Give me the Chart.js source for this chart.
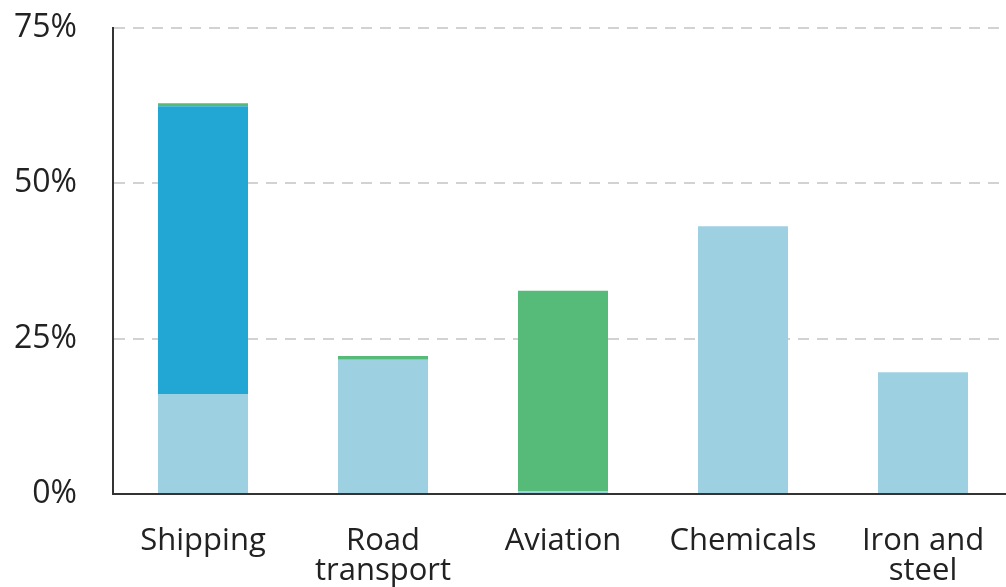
<!DOCTYPE html>
<html>
<head>
<meta charset="utf-8">
<script src="https://cdn.jsdelivr.net/npm/chart.js@4/dist/chart.umd.min.js"></script>
<style>
  html, body { margin: 0; padding: 0; background: #fff; overflow: hidden; }
  #wrap { width: 1013px; height: 587px; }
</style>
</head>
<body>
<div id="wrap"><canvas id="barChart" width="1013" height="587"></canvas></div>
<script>
// categories and stacked shares (%)
const sectors = ["Shipping", ["Road", "transport"], "Aviation", "Chemicals", ["Iron and", "steel"]];
const lightPart = [16.1, 21.6, 0.4, 43.1, 19.6];
const darkPart = [46.3, 0, 0, 0, 0];
const greenPart = [0.5, 0.6, 32.3, 0, 0];
const yTicks = [0, 25, 50, 75];

const textColor = "#222";
const fontFamily = "'Open Sans', 'Noto Sans', sans-serif";

var ctx = document.getElementById("barChart").getContext("2d");
var barChart = new Chart(ctx, {
    type: "bar",
    data: {
        labels: sectors,
        datasets: [
            { label: "a", data: lightPart, backgroundColor: "#9dd0e1" },
            { label: "b", data: darkPart, backgroundColor: "#22a7d4" },
            { label: "c", data: greenPart, backgroundColor: "#56bb78" }
        ]
    },
    options: {
        responsive: false,
        animation: false,
        layout: { padding: { top: 28, right: 0, left: 0, bottom: 0 } },
        plugins: { legend: { display: false }, tooltip: { enabled: false } },
        datasets: { bar: { barPercentage: 0.5, categoryPercentage: 1.0 } },
        scales: {
            x: {
                stacked: true,
                grid: { display: false, drawTicks: false },
                border: { display: true, color: "#333", width: 2 },
                ticks: {
                    color: textColor,
                    padding: 32,
                    maxRotation: 0,
                    autoSkip: false,
                    font: { family: fontFamily, size: 31, lineHeight: 0.97 }
                },
                afterFit: function (scale) {
                    scale.height = 93;
                    scale.paddingLeft = 0;
                    scale.paddingRight = 0;
                }
            },
            y: {
                stacked: true,
                min: 0,
                max: 75,
                afterBuildTicks: function (scale) {
                    scale.ticks = yTicks.map(v => ({ value: v }));
                },
                grid: { color: "#d2d2d2", lineWidth: 2, drawTicks: false },
                border: { display: true, color: "#333", width: 2, dash: [11, 8] },
                ticks: {
                    color: textColor,
                    padding: 36,
                    font: { family: fontFamily, size: 32 },
                    callback: v => v + "%"
                },
                afterFit: function (scale) {
                    scale.width = 113;
                    // no extra room reserved above the top label
                    scale.paddingTop = 0;
                    scale.paddingBottom = 0;
                }
            }
        }
    }
});
</script>
</body>
</html>
